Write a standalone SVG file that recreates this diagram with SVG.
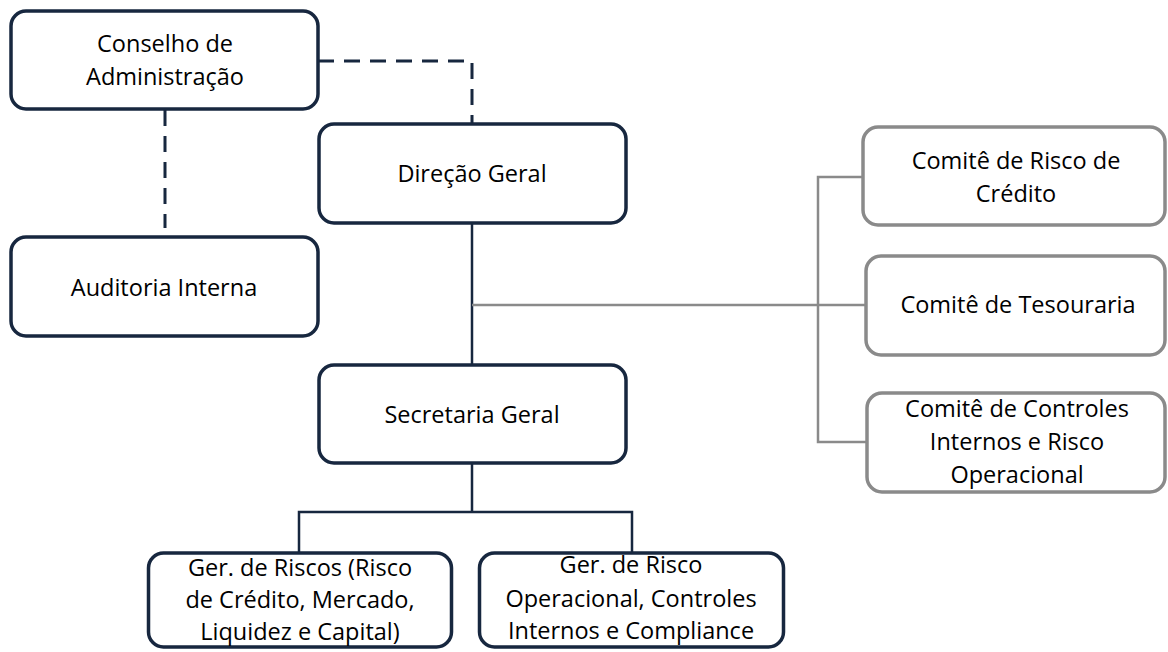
<svg xmlns="http://www.w3.org/2000/svg" width="1168" height="652" viewBox="0 0 1168 652">
<style>
.nb{fill:#fff;stroke:#17273f;stroke-width:3.5}
.gb{fill:#fff;stroke:#8a8a8a;stroke-width:3.5}
.t{font-family:"Open Sans","DejaVu Sans",sans-serif;font-size:23.5px;fill:#000;text-anchor:middle}
.nl{fill:none;stroke:#17273f;stroke-width:2.5}
.dl{fill:none;stroke:#17273f;stroke-width:3;stroke-dasharray:16 10}
.gl{fill:none;stroke:#8a8a8a;stroke-width:2.5}
</style>
<rect width="1168" height="652" fill="#fff"/>
<g id="connectors">
<path class="dl" d="M318 61 H472 V123"/>
<path class="dl" d="M165 110 V228"/>
<path class="nl" d="M472 223 V365"/>
<path class="gl" d="M472 305 H866"/>
<path class="gl" d="M862 177 H818 V442 H867"/>
<path class="nl" d="M472 463 V512 M299 553 V512 H632 V553"/>
</g>
<g id="conselho">
<rect class="nb" x="11" y="11" width="307" height="98" rx="15"/>
<text class="t" x="165" y="52">Conselho de</text>
<text class="t" x="165" y="85">Administração</text>
</g>
<g id="auditoria">
<rect class="nb" x="11" y="237" width="307" height="99" rx="15"/>
<text class="t" x="164" y="296">Auditoria Interna</text>
</g>
<g id="direcao">
<rect class="nb" x="319" y="124" width="307" height="99" rx="15"/>
<text class="t" x="472" y="182">Direção Geral</text>
</g>
<g id="secretaria">
<rect class="nb" x="319" y="365" width="307" height="98" rx="15"/>
<text class="t" x="472" y="423">Secretaria Geral</text>
</g>
<g id="comite-credito">
<rect class="gb" x="863" y="127" width="302" height="98" rx="15"/>
<text class="t" x="1016" y="169">Comitê de Risco de</text>
<text class="t" x="1016" y="202">Crédito</text>
</g>
<g id="comite-tesouraria">
<rect class="gb" x="866" y="256" width="299" height="99" rx="15"/>
<text class="t" x="1018" y="313">Comitê de Tesouraria</text>
</g>
<g id="comite-controles">
<rect class="gb" x="867" y="393" width="298" height="99" rx="15"/>
<text class="t" x="1017" y="417">Comitê de Controles</text>
<text class="t" x="1017" y="450">Internos e Risco</text>
<text class="t" x="1017" y="483">Operacional</text>
</g>
<g id="ger-riscos">
<rect class="nb" x="148.5" y="553" width="303" height="94" rx="15"/>
<text class="t" x="300" y="576">Ger. de Riscos (Risco</text>
<text class="t" x="300" y="608">de Crédito, Mercado,</text>
<text class="t" x="300" y="640">Liquidez e Capital)</text>
</g>
<g id="ger-risco-op">
<rect class="nb" x="479.5" y="553" width="304" height="94" rx="15"/>
<text class="t" x="631" y="573">Ger. de Risco</text>
<text class="t" x="631" y="607">Operacional, Controles</text>
<text class="t" x="631" y="639">Internos e Compliance</text>
</g>
</svg>
